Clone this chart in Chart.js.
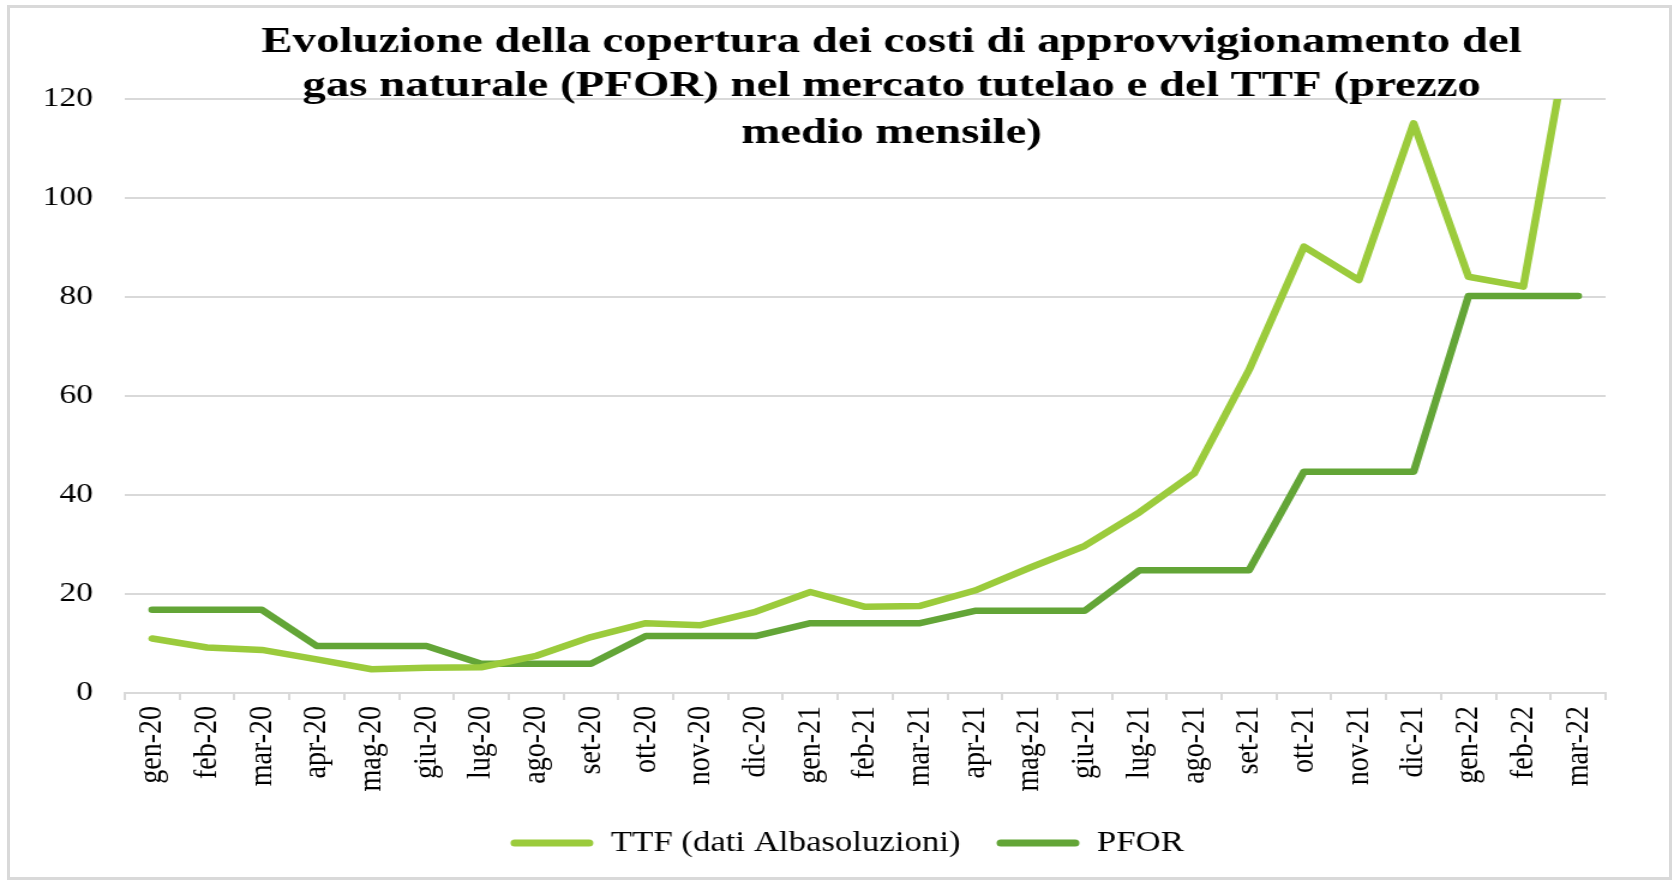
<!DOCTYPE html>
<html lang="it">
<head>
<meta charset="utf-8">
<title>PFOR e TTF</title>
<script src="https://cdn.jsdelivr.net/npm/chart.js@4.4.1/dist/chart.umd.min.js"></script>
<style>
  html, body { margin: 0; padding: 0; background: #fff; overflow: hidden; }
  #cornice {
    position: absolute; left: 7px; top: 5px;
    width: 1659px; height: 869px;
    border: 3px solid #d9d9d9;
    pointer-events: none;
  }
  #grafico {
    position: absolute; left: 0; top: 0;
    transform: scaleX(1.2); transform-origin: 0 0;
  }
</style>
</head>
<body>
<canvas id="grafico" width="1396" height="881"></canvas>
<div id="cornice"></div>
<script>
// mesi gen-20 .. mar-22
const mesi = [
  'gen-20', 'feb-20', 'mar-20', 'apr-20', 'mag-20', 'giu-20', 'lug-20', 'ago-20', 'set-20',
  'ott-20', 'nov-20', 'dic-20', 'gen-21', 'feb-21', 'mar-21', 'apr-21', 'mag-21', 'giu-21',
  'lug-21', 'ago-21', 'set-21', 'ott-21', 'nov-21', 'dic-21', 'gen-22', 'feb-22', 'mar-22'
];

// valori (€/MWh circa)
const ttf = [
  11.0, 9.2, 8.7, 6.8, 4.8, 5.1, 5.2, 7.5, 11.3,
  14.1, 13.7, 16.4, 20.4, 17.4, 17.6, 20.7, 25.3, 29.7,
  36.5, 44.4, 65.3, 90.2, 83.4, 115.1, 84.1, 82.1, 143
];
const pfor = [
  16.8, 16.8, 16.8, 9.5, 9.5, 9.5, 5.9, 5.9, 5.9,
  11.5, 11.5, 11.5, 14.1, 14.1, 14.1, 16.6, 16.6, 16.6,
  24.8, 24.8, 24.8, 44.7, 44.7, 44.7, 80.2, 80.2, 80.2
];

const tickY = [0, 20, 40, 60, 80, 100, 120];

const titolo = [
  'Evoluzione della copertura dei costi di approvvigionamento del',
  'gas naturale (PFOR) nel mercato tutelao e del TTF (prezzo',
  'medio mensile)'
];
const baseTitolo = [52, 96, 143];

const serif = '"Liberation Serif", "Times New Roman", serif';
const grigio = '#d9d9d9';

// il titolo sta sopra l'area del grafico, come nell'originale
const titoloPlugin = {
  id: 'titoloSopra',
  afterDraw(chart) {
    const ctx = chart.ctx;
    ctx.save();
    ctx.font = 'bold 35.5px ' + serif;
    ctx.fillStyle = '#000';
    ctx.textAlign = 'center';
    ctx.textBaseline = 'alphabetic';
    ctx.translate(743, 0);
    ctx.scale(1.1, 1);
    titolo.forEach((riga, i) => ctx.fillText(riga, 0, baseTitolo[i]));
    ctx.restore();
  }
};

const ctx = document.getElementById('grafico').getContext('2d');

new Chart(ctx, {
  type: 'line',
  data: {
    labels: mesi,
    datasets: [
      {
        label: 'TTF (dati Albasoluzioni)',
        data: ttf,
        borderColor: '#9bcb3c',
        backgroundColor: '#9bcb3c',
        borderWidth: 6.5,
        borderJoinStyle: 'round',
        borderCapStyle: 'round',
        pointRadius: 0,
        tension: 0
      },
      {
        label: 'PFOR',
        data: pfor,
        borderColor: '#63a537',
        backgroundColor: '#63a537',
        borderWidth: 6.5,
        borderJoinStyle: 'round',
        borderCapStyle: 'round',
        pointRadius: 0,
        tension: 0
      }
    ]
  },
  options: {
    responsive: false,
    animation: false,
    devicePixelRatio: 1,
    layout: {
      padding: { left: 36, right: 20, top: 99, bottom: 13.5 }
    },
    scales: {
      x: {
        offset: true,
        grid: {
          offset: true,
          drawOnChartArea: false,
          drawTicks: true,
          tickLength: 7,
          color: grigio,
          lineWidth: 2
        },
        border: { display: true, color: grigio, width: 2 },
        ticks: {
          autoSkip: false,
          minRotation: 90,
          maxRotation: 90,
          padding: 6,
          color: '#000',
          font: { family: serif, size: 28 }
        },
        afterFit(scale) { scale.height = 105.5; }
      },
      y: {
        min: 0,
        max: 120,
        afterBuildTicks(scale) { scale.ticks = tickY.map(v => ({ value: v })); },
        grid: { color: grigio, lineWidth: 2, drawTicks: false },
        border: { display: false },
        ticks: {
          padding: 26.5,
          color: '#000',
          font: { family: serif, size: 28 }
        },
        afterFit(scale) { scale.width = 68; }
      },
      // spazio vuoto a destra, così la legenda resta centrata come nell'originale
      margine: {
        type: 'linear',
        position: 'right',
        grid: { display: false },
        border: { display: false },
        ticks: { display: false },
        afterFit(scale) { scale.width = 38; }
      }
    },
    plugins: {
      title: { display: false },
      tooltip: { enabled: false },
      legend: {
        display: true,
        position: 'bottom',
        labels: {
          boxWidth: 69,
          boxHeight: 7,
          useBorderRadius: true,
          borderRadius: 3.5,
          padding: 30,
          color: '#000',
          font: { family: serif, size: 29 },
          generateLabels(chart) {
            return Chart.defaults.plugins.legend.labels.generateLabels(chart)
              .map(l => ({ ...l, lineWidth: 0 }));
          }
        }
      }
    }
  },
  plugins: [titoloPlugin]
});
</script>
</body>
</html>
